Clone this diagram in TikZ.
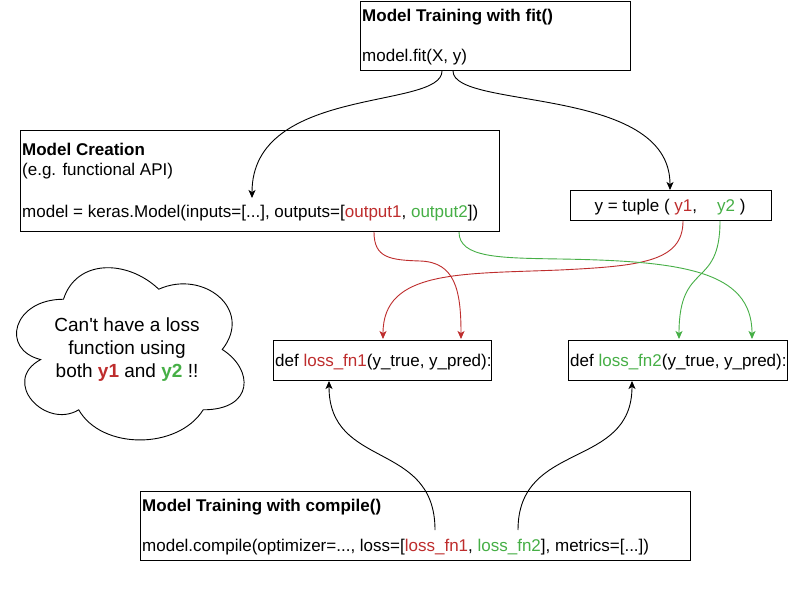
\documentclass[tikz,border=0pt]{standalone}
\usepackage{fontspec}
\setmainfont{Liberation Sans}
\usetikzlibrary{arrows.meta}
\definecolor{cred}{RGB}{190,45,45}
\definecolor{cgreen}{RGB}{70,175,70}
\begin{document}
\begin{tikzpicture}[x=1pt,y=-1pt,
  box/.style={draw=black, line width=1pt, inner sep=0pt, anchor=north west},
  txt/.style={anchor=base west, inner sep=0pt, font=\fontsize{17}{20}\selectfont},
  btxt/.style={anchor=base west, inner sep=0pt, font=\fontsize{17}{20}\selectfont\bfseries},
  conn/.style={line width=0.9pt, -{Stealth[length=8pt,width=7pt,inset=2pt]}},
  rconn/.style={conn, draw=cred},
  gconn/.style={conn, draw=cgreen},
]
\useasboundingbox (0,0) rectangle (791,601);
\fill[white] (0,0) rectangle (791,601);

% boxes
\node[box, minimum width=270pt, minimum height=69pt] (fit) at (360,1) {};
\node[box, minimum width=479pt, minimum height=101pt] (creation) at (20,130) {};
\node[box, minimum width=201pt, minimum height=30pt] (tuple) at (570,190) {};
\node[box, minimum width=218pt, minimum height=40pt] (lf1) at (273,340) {};
\node[box, minimum width=219pt, minimum height=40pt] (lf2) at (568,340) {};
\node[box, minimum width=550pt, minimum height=69pt] (compile) at (140,491) {};

% texts
\node[btxt] (fittitle) at (362,22) {Model Training with fit()};
\node[txt] (fitcode) at (362,62) {model.fit(X, y)};
\node[btxt] (crtitle) at (22,156) {Model Creation};
\node[txt] (crsub) at (22,176) {(e.g. functional API)};
\node[txt] (crcode) at (22,218) {model = keras.Model(inputs=[...], outputs=[\textcolor{cred}{output1}, \textcolor{cgreen}{output2}])};
\node[txt, anchor=base] (tuptext) at (670,212) {y = tuple ( \textcolor{cred}{y1},\hspace{20pt}\textcolor{cgreen}{y2} )};
\node[txt] (lf1text) at (275,366) {def \textcolor{cred}{loss\_fn1}(y\_true, y\_pred):};
\node[txt] (lf2text) at (570,366) {def \textcolor{cgreen}{loss\_fn2}(y\_true, y\_pred):};
\node[btxt] (cotitle) at (142,511) {Model Training with compile()};
\node[txt] (cocode) at (142,551) {model.compile(optimizer=..., loss=[\textcolor{cred}{loss\_fn1}, \textcolor{cgreen}{loss\_fn2}], metrics=[...])};

% cloud
\draw[line width=0.9pt] (63.5,299.25)
  .. controls (12.7,299.25) and (0,349.5) .. (40.64,359.55)
  .. controls (0,381.66) and (45.72,429.9) .. (78.74,409.8)
  .. controls (101.6,450) and (177.8,450) .. (203.2,409.8)
  .. controls (254,409.8) and (254,369.6) .. (222.25,349.5)
  .. controls (254,309.3) and (203.2,269.1) .. (158.75,289.2)
  .. controls (127,259.05) and (76.2,259.05) .. (63.5,299.25) -- cycle;
\node[align=center, inner sep=0pt, font=\fontsize{19}{23}\selectfont] (cloudtext) at (127,350)
  {Can\textquotesingle t have a loss\\function using\\both \textcolor{cred}{\bfseries y1} and \textcolor{cgreen}{\bfseries y2} !!};

% connector end points
\coordinate (fitA) at (442,71);
\coordinate (fitB) at (453,71);
\coordinate (crIn) at (252,198);
\coordinate (tupIn) at (670,190);
\coordinate (out1) at (374,232);
\coordinate (out2) at (459,232);
\coordinate (y1) at (683,221);
\coordinate (y2) at (720,221);
\coordinate (lf1a) at (383,339);
\coordinate (lf1b) at (461,339);
\coordinate (lf2a) at (679,339);
\coordinate (lf2b) at (752,339);
\coordinate (coA) at (435,530);
\coordinate (coB) at (518,530);
\coordinate (lf1bot) at (329,381);
\coordinate (lf2bot) at (632,381);

% connectors
\draw[conn] (fitA) .. controls (442,110) and (252,85) .. (crIn);
\draw[conn] (fitB) .. controls (453,110) and (670,85) .. (tupIn);
\draw[rconn] (out1) .. controls (374,258) and (390,260) .. (420,261)
  .. controls (455,262) and (461,290) .. (lf1b);
\draw[rconn] (y1) .. controls (683,262) and (640,266) .. (560,270)
  .. controls (460,274) and (383,270) .. (lf1a);
\draw[gconn] (out2) .. controls (459,258) and (500,258) .. (560,259)
  .. controls (680,261) and (752,270) .. (lf2b);
\draw[gconn] (y2) .. controls (720,290) and (679,260) .. (lf2a);
\draw[conn] (coA) .. controls (435,440) and (329,470) .. (lf1bot);
\draw[conn] (coB) .. controls (518,440) and (632,470) .. (lf2bot);
\end{tikzpicture}
\end{document}
